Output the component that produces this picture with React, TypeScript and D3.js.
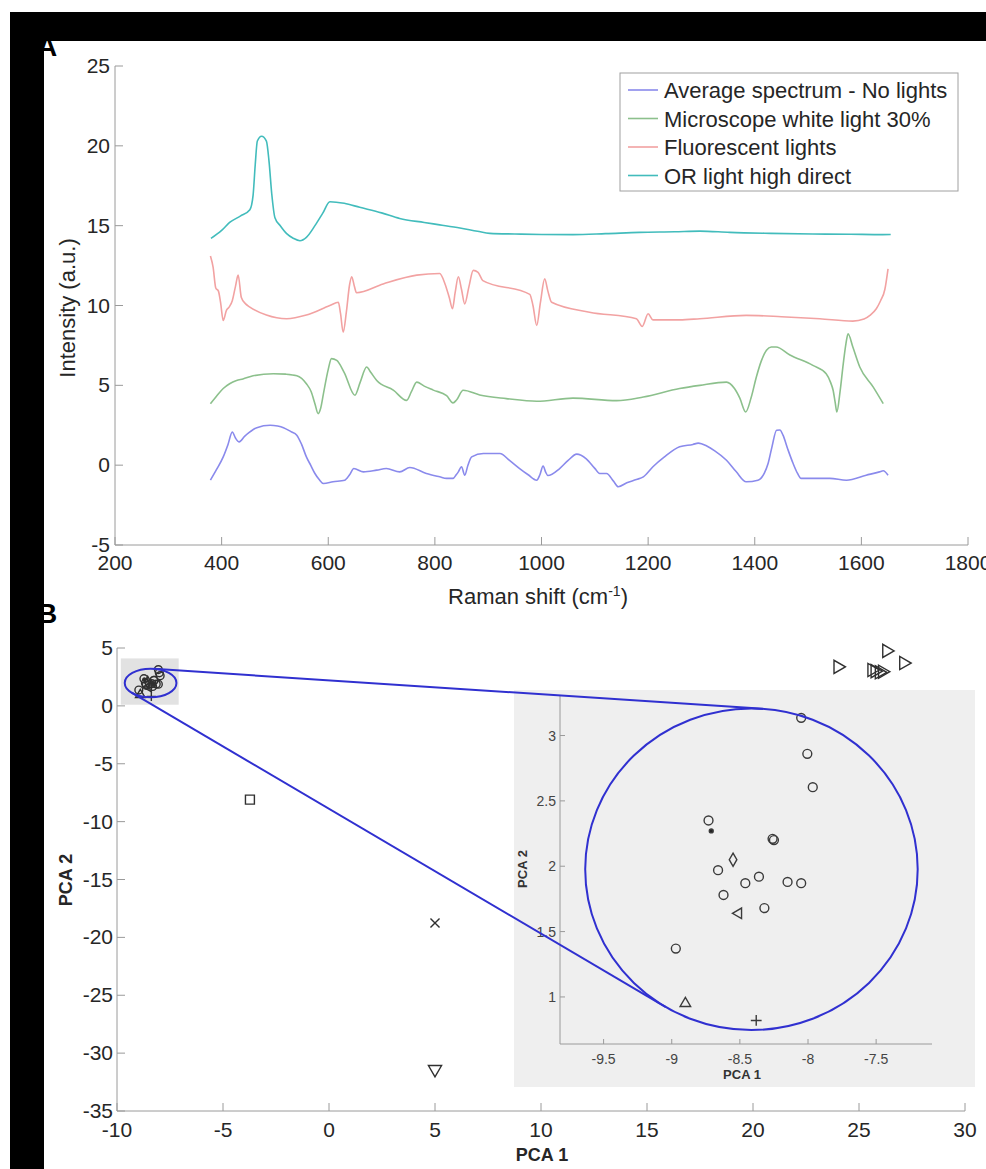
import React from 'react';
import * as d3 from 'd3';

// ---------- Panel A data ----------
const spectrumNames = [
  'Average spectrum - No lights',
  'Microscope white light 30%',
  'Fluorescent lights',
  'OR light high direct',
];
const spectrumColors = ['#8a8aec', '#8cc08c', '#f2a2a2', '#42bcbc'];

const noLights: [number, number][] = [
  [379, -0.94], [390, -0.3], [403, 0.52], [412, 1.3], [420, 2.08], [426, 1.7], [433, 1.46], [443, 1.8],
  [453, 2.08], [466, 2.35], [491, 2.5], [505, 2.45], [516, 2.35], [530, 2.1], [541, 1.88], [550, 1.3],
  [559, 0.52], [567, 0], [575, -0.52], [583, -0.9], [591, -1.15], [609, -1.04], [631, -0.94], [640, -0.6],
  [648, -0.21], [666, -0.42], [691, -0.31], [709, -0.21], [734, -0.42], [753, -0.15], [784, -0.52],
  [809, -0.73], [822, -0.83], [834, -0.83], [840, -0.6], [844, -0.42], [850, -0.1], [856, -0.63], [862, 0],
  [869, 0.52], [891, 0.73], [922, 0.73], [940, 0.3], [959, -0.21], [975, -0.6], [991, -0.94], [997, -0.6],
  [1003, -0.05], [1008, -0.45], [1012, -0.65], [1034, -0.21], [1050, 0.3], [1066, 0.69], [1084, 0.4],
  [1100, -0.2], [1109, -0.52], [1122, -0.52], [1135, -1.0], [1144, -1.35], [1160, -1.1], [1178, -0.9],
  [1191, -0.73], [1209, -0.1], [1230, 0.5], [1259, 1.15], [1284, 1.3], [1294, 1.38], [1310, 1.2],
  [1325, 0.9], [1347, 0.31], [1365, -0.4], [1384, -1.04], [1406, -0.94], [1418, -0.5], [1425, 0.1],
  [1432, 1.1], [1441, 2.19], [1447, 2.2], [1453, 1.88], [1462, 1.0], [1472, 0.1], [1480, -0.5],
  [1487, -0.83], [1541, -0.83], [1572, -0.94], [1609, -0.63], [1634, -0.42], [1641, -0.35], [1650, -0.63],
];

const microscope: [number, number][] = [
  [379, 3.85], [390, 4.3], [403, 4.8], [415, 5.1], [428, 5.3], [440, 5.4], [459, 5.6], [497, 5.73],
  [520, 5.7], [541, 5.6], [559, 5.1], [568, 4.6], [575, 3.85], [581, 3.23], [586, 3.6], [591, 4.48],
  [600, 6.0], [606, 6.67], [616, 6.56], [630, 5.8], [650, 4.38], [660, 5.2], [672, 6.15], [680, 5.8],
  [691, 5.3], [722, 4.7], [747, 4.06], [756, 4.6], [766, 5.2], [780, 4.95], [797, 4.7], [822, 4.35],
  [834, 3.9], [841, 4.1], [853, 4.69], [884, 4.4], [934, 4.17], [991, 4.0], [1059, 4.2], [1141, 4.04],
  [1191, 4.27], [1259, 4.8], [1297, 5.0], [1347, 5.2], [1362, 4.8], [1372, 4.2], [1383, 3.33],
  [1393, 4.2], [1403, 5.52], [1412, 6.5], [1422, 7.2], [1431, 7.4], [1440, 7.4], [1466, 6.9],
  [1509, 6.25], [1534, 5.73], [1542, 5.2], [1547, 4.69], [1551, 3.9], [1554, 3.33], [1560, 4.6],
  [1566, 6.35], [1571, 7.6], [1575, 8.23], [1584, 7.4], [1597, 6.15], [1622, 4.9], [1641, 3.85],
];

const fluorescent: [number, number][] = [
  [379, 13.1], [384, 12.4], [389, 11.1], [394, 10.9], [398, 10.2], [403, 9.06], [409, 9.7], [414, 9.9],
  [420, 10.3], [426, 11.2], [431, 11.9], [437, 10.5], [445, 10.1], [453, 9.9], [484, 9.4], [522, 9.17],
  [559, 9.4], [603, 10.0], [619, 10.2], [623, 9.5], [628, 8.33], [634, 9.6], [640, 11.3], [644, 11.8],
  [649, 11.2], [653, 10.8], [703, 11.35], [766, 11.9], [809, 12.0], [819, 11.35], [827, 10.5],
  [833, 9.8], [838, 10.8], [844, 11.8], [850, 11.0], [856, 10.1], [864, 11.2], [872, 12.2],
  [881, 12.08], [890, 11.56], [978, 10.7], [984, 10.0], [991, 8.75], [998, 10.2], [1006, 11.67],
  [1012, 10.9], [1019, 10.2], [1090, 9.58], [1178, 9.17], [1189, 8.69], [1200, 9.48], [1209, 9.1],
  [1259, 9.1], [1297, 9.17], [1384, 9.38], [1450, 9.3], [1522, 9.17], [1584, 9.02], [1605, 9.15],
  [1616, 9.38], [1628, 9.8], [1636, 10.3], [1644, 11.0], [1650, 12.3],
];

const orLight: [number, number][] = [
  [380, 14.2], [400, 14.7], [415, 15.2], [435, 15.6], [453, 16.0], [459, 16.9], [463, 18.8],
  [467, 20.3], [475, 20.6], [484, 20.3], [489, 19.0], [494, 17.0], [500, 15.5], [510, 15.0],
  [522, 14.5], [535, 14.2], [547, 14.06], [559, 14.27], [575, 15.0], [590, 15.8], [603, 16.5],
  [630, 16.4], [659, 16.15], [700, 15.8], [734, 15.45], [780, 15.2], [809, 15.05], [847, 14.85],
  [880, 14.65], [903, 14.52], [950, 14.48], [1000, 14.45], [1059, 14.44], [1120, 14.5], [1184, 14.58],
  [1250, 14.62], [1297, 14.66], [1353, 14.58], [1430, 14.52], [1509, 14.48], [1580, 14.46],
  [1640, 14.44], [1655, 14.45],
];

const spectra = [noLights, microscope, fluorescent, orLight];
const ramanTicks = [200, 400, 600, 800, 1000, 1200, 1400, 1600, 1800];
const intensityTicks = [-5, 0, 5, 10, 15, 20, 25];

// ---------- Panel B data ----------
type Marker = 'circle' | 'square' | 'diamond' | 'triUp' | 'triDown' | 'triLeft' | 'triRight' | 'plus' | 'times' | 'dot';
const pcaPoints: { pc1: number; pc2: number; marker: Marker }[] = [
  { pc1: -8.05, pc2: 3.135, marker: 'circle' },
  { pc1: -8.005, pc2: 2.86, marker: 'circle' },
  { pc1: -7.965, pc2: 2.605, marker: 'circle' },
  { pc1: -8.73, pc2: 2.35, marker: 'circle' },
  { pc1: -8.71, pc2: 2.27, marker: 'dot' },
  { pc1: -8.26, pc2: 2.21, marker: 'circle' },
  { pc1: -8.25, pc2: 2.2, marker: 'circle' },
  { pc1: -8.55, pc2: 2.05, marker: 'diamond' },
  { pc1: -8.66, pc2: 1.97, marker: 'circle' },
  { pc1: -8.46, pc2: 1.87, marker: 'circle' },
  { pc1: -8.36, pc2: 1.92, marker: 'circle' },
  { pc1: -8.15, pc2: 1.88, marker: 'circle' },
  { pc1: -8.05, pc2: 1.87, marker: 'circle' },
  { pc1: -8.62, pc2: 1.78, marker: 'circle' },
  { pc1: -8.51, pc2: 1.64, marker: 'triLeft' },
  { pc1: -8.32, pc2: 1.68, marker: 'circle' },
  { pc1: -8.97, pc2: 1.37, marker: 'circle' },
  { pc1: -8.9, pc2: 0.95, marker: 'triUp' },
  { pc1: -8.38, pc2: 0.82, marker: 'plus' },
  { pc1: -3.73, pc2: -8.1, marker: 'square' },
  { pc1: 5.0, pc2: -18.75, marker: 'times' },
  { pc1: 5.0, pc2: -31.4, marker: 'triDown' },
  { pc1: 24.0, pc2: 3.37, marker: 'triRight' },
  { pc1: 26.3, pc2: 4.75, marker: 'triRight' },
  { pc1: 27.1, pc2: 3.7, marker: 'triRight' },
  { pc1: 25.6, pc2: 3.1, marker: 'triRight' },
  { pc1: 25.75, pc2: 3.0, marker: 'triRight' },
  { pc1: 25.95, pc2: 2.9, marker: 'triRight' },
  { pc1: 26.1, pc2: 2.95, marker: 'triRight' },
];
const ellipseCenter = [-8.415, 1.977];
const ellipseRadii = [1.22, 1.23];
const zoomWindowPc1 = [-9.82, -7.09];
const zoomWindowPc2 = [0.1, 4.1];
const pc1Ticks = [-10, -5, 0, 5, 10, 15, 20, 25, 30];
const pc2Ticks = [-35, -30, -25, -20, -15, -10, -5, 0, 5];
const insetPc1Ticks = [-9.5, -9, -8.5, -8, -7.5];
const insetPc2Ticks = [1, 1.5, 2, 2.5, 3];

const FONT = '"Liberation Sans", Arial, Helvetica, sans-serif';
const AXIS = '#9a9a9a';
const TEXT = '#262626';

function markerPath(m: Marker, inset: boolean): string {
  const sym = (t: d3.SymbolType, s: number) => d3.symbol(t, s)() as string;
  switch (m) {
    case 'circle': return sym(d3.symbolCircle, inset ? 62 : 48);
    case 'square': return sym(d3.symbolSquare, 80);
    case 'diamond': return sym(d3.symbolDiamond, inset ? 50 : 40);
    case 'triUp':
    case 'triLeft': return sym(d3.symbolTriangle, inset ? 48 : 40);
    case 'triDown':
    case 'triRight': return sym(d3.symbolTriangle, 75);
    case 'plus': return sym(d3.symbolPlus, inset ? 40 : 30);
    case 'times': return sym(d3.symbolTimes, 55);
    case 'dot': return sym(d3.symbolCircle, inset ? 12 : 8);
  }
}
function markerRotation(m: Marker): number {
  if (m === 'triDown') return 180;
  if (m === 'triLeft') return -90;
  if (m === 'triRight') return 90;
  return 0;
}

export default function App() {
  // Panel A scales
  const xA = d3.scaleLinear().domain([200, 1800]).range([115, 968]);
  const yA = d3.scaleLinear().domain([-5, 25]).range([545, 66]);
  const line = d3.line<[number, number]>().x(d => xA(d[0])).y(d => yA(d[1])).curve(d3.curveMonotoneX);

  // Panel B scales
  const xB = d3.scaleLinear().domain([-10, 30]).range([117, 965]);
  const yB = d3.scaleLinear().domain([-35, 5]).range([1111, 648]);
  const xI = d3.scaleLinear().domain([-9.82, -7.09]).range([560, 932]);
  const yI = d3.scaleLinear().domain([0.64, 3.31]).range([1044, 695]);

  const eMain = {
    cx: xB(ellipseCenter[0]), cy: yB(ellipseCenter[1]),
    rx: xB(ellipseCenter[0] + ellipseRadii[0]) - xB(ellipseCenter[0]),
    ry: yB(ellipseCenter[1]) - yB(ellipseCenter[1] + ellipseRadii[1]),
  };
  const eIn = {
    cx: xI(ellipseCenter[0]), cy: yI(ellipseCenter[1]),
    rx: xI(ellipseCenter[0] + ellipseRadii[0]) - xI(ellipseCenter[0]),
    ry: yI(ellipseCenter[1]) - yI(ellipseCenter[1] + ellipseRadii[1]),
  };
  const samples: [number, number, number][] = [];
  for (let i = 0; i < 360; i++) {
    const t = (i / 360) * Math.PI * 2;
    samples.push([eMain.cx + eMain.rx * Math.cos(t), eMain.cy + eMain.ry * Math.sin(t), 0]);
    samples.push([eIn.cx + eIn.rx * Math.cos(t), eIn.cy + eIn.ry * Math.sin(t), 1]);
  }
  const hull = d3.polygonHull(samples as any) as any[];
  const bridges: [number[], number[]][] = [];
  if (hull) {
    for (let i = 0; i < hull.length; i++) {
      const a = hull[i], b = hull[(i + 1) % hull.length];
      if (a[2] !== b[2]) bridges.push([a, b]);
    }
  }

  const insetPoints = pcaPoints.filter(p => p.pc1 >= -9.82 && p.pc1 <= -7.09 && p.pc2 >= 0.64 && p.pc2 <= 3.31);

  const legendX = 620, legendY = 73;

  return (
    <svg width={986} height={1169} style={{ position: 'absolute', left: 0, top: 0, background: '#fff' }} fontFamily={FONT}>
      <rect x={0} y={0} width={986} height={1169} fill="#fff" />

      {/* ================= Panel A ================= */}
      <text x={37} y={56} fontSize={28} fontWeight="bold" fill="#000">A</text>
      <line x1={xA(200)} x2={xA(1800)} y1={yA(-5)} y2={yA(-5)} stroke={AXIS} />
      <line x1={xA(200)} x2={xA(200)} y1={yA(-5)} y2={yA(25)} stroke={AXIS} />
      {ramanTicks.map(t => (
        <g key={'rx' + t}>
          <line x1={xA(t)} x2={xA(t)} y1={yA(-5)} y2={yA(-5) - 8} stroke={AXIS} />
          <text x={xA(t)} y={yA(-5) + 25} fontSize={21} textAnchor="middle" fill={TEXT}>{t}</text>
        </g>
      ))}
      {intensityTicks.map(t => (
        <g key={'iy' + t}>
          <line x1={xA(200)} x2={xA(200) + 8} y1={yA(t)} y2={yA(t)} stroke={AXIS} />
          <text x={xA(200) - 5} y={yA(t) + 7} fontSize={21} textAnchor="end" fill={TEXT}>{t}</text>
        </g>
      ))}
      <text x={538} y={604} fontSize={22} textAnchor="middle" fill={TEXT}>
        Raman shift (cm<tspan dy={-8} fontSize={14}>-1</tspan><tspan dy={8}>)</tspan>
      </text>
      <text transform={`translate(75,308) rotate(-90)`} fontSize={22} textAnchor="middle" fill={TEXT}>Intensity (a.u.)</text>

      {spectra.map((s, i) => (
        <path key={'sp' + i} d={line(s) as string} fill="none" stroke={spectrumColors[i]} strokeWidth={1.6} />
      ))}

      {/* legend */}
      <rect x={legendX} y={legendY} width={338} height={118} fill="#fff" stroke="#a0a0a0" strokeWidth={1} />
      {spectrumNames.map((n, i) => (
        <g key={'lg' + i}>
          <line x1={legendX + 8} x2={legendX + 38} y1={legendY + 17 + i * 28.5} y2={legendY + 17 + i * 28.5} stroke={spectrumColors[i]} strokeWidth={1.6} />
          <text x={legendX + 44} y={legendY + 25 + i * 28.5} fontSize={22} fill={TEXT}>{n}</text>
        </g>
      ))}

      {/* ================= Panel B ================= */}
      <text x={37} y={623} fontSize={28} fontWeight="bold" fill="#000">B</text>
      <rect x={xB(zoomWindowPc1[0])} y={yB(zoomWindowPc2[1])} width={xB(zoomWindowPc1[1]) - xB(zoomWindowPc1[0])}
        height={yB(zoomWindowPc2[0]) - yB(zoomWindowPc2[1])} fill="#e2e2e2" />
      <line x1={xB(-10)} x2={xB(30)} y1={yB(-35)} y2={yB(-35)} stroke={AXIS} />
      <line x1={xB(-10)} x2={xB(-10)} y1={yB(-35)} y2={yB(5)} stroke={AXIS} />
      {pc1Ticks.map(t => (
        <g key={'px' + t}>
          <line x1={xB(t)} x2={xB(t)} y1={yB(-35)} y2={yB(-35) - 8} stroke={AXIS} />
          <text x={xB(t)} y={yB(-35) + 26} fontSize={21} textAnchor="middle" fill={TEXT}>{t}</text>
        </g>
      ))}
      {pc2Ticks.map(t => (
        <g key={'py' + t}>
          <line x1={xB(-10)} x2={xB(-10) + 8} y1={yB(t)} y2={yB(t)} stroke={AXIS} />
          <text x={xB(-10) - 4} y={yB(t) + 7} fontSize={21} textAnchor="end" fill={TEXT}>{t}</text>
        </g>
      ))}
      <text x={542} y={1161} fontSize={18} fontWeight="bold" textAnchor="middle" fill={TEXT}>PCA 1</text>
      <text transform={`translate(72,880) rotate(-90)`} fontSize={18} fontWeight="bold" textAnchor="middle" fill={TEXT}>PCA 2</text>

      {pcaPoints.map((p, i) => (
        <path key={'mp' + i} d={markerPath(p.marker, false)}
          transform={`translate(${xB(p.pc1)},${yB(p.pc2)}) rotate(${markerRotation(p.marker)})`}
          fill={p.marker === 'dot' ? '#222' : 'none'} stroke="#303030" strokeWidth={1.4} />
      ))}
      <ellipse cx={eMain.cx} cy={eMain.cy} rx={eMain.rx} ry={eMain.ry} fill="none" stroke="#3030d0" strokeWidth={2} />

      {/* inset */}
      <rect x={514} y={690} width={461} height={397} fill="#efefef" />
      <line x1={560} x2={932} y1={yI(0.64)} y2={yI(0.64)} stroke={AXIS} />
      <line x1={xI(-9.82)} x2={xI(-9.82)} y1={yI(0.64)} y2={yI(3.31)} stroke={AXIS} />
      {insetPc1Ticks.map(t => (
        <g key={'ix' + t}>
          <line x1={xI(t)} x2={xI(t)} y1={yI(0.64)} y2={yI(0.64) - 5} stroke={AXIS} />
          <text x={xI(t)} y={yI(0.64) + 20} fontSize={14} textAnchor="middle" fill="#444">{t}</text>
        </g>
      ))}
      {insetPc2Ticks.map(t => (
        <g key={'iy2' + t}>
          <line x1={xI(-9.82)} x2={xI(-9.82) + 5} y1={yI(t)} y2={yI(t)} stroke={AXIS} />
          <text x={xI(-9.82) - 4} y={yI(t) + 5} fontSize={14} textAnchor="end" fill="#444">{t}</text>
        </g>
      ))}
      <text x={742} y={1079} fontSize={13} fontWeight="bold" textAnchor="middle" fill="#333">PCA 1</text>
      <text transform={`translate(527,869) rotate(-90)`} fontSize={13} fontWeight="bold" textAnchor="middle" fill="#333">PCA 2</text>
      {insetPoints.map((p, i) => (
        <path key={'ip' + i} d={markerPath(p.marker, true)}
          transform={`translate(${xI(p.pc1)},${yI(p.pc2)}) rotate(${markerRotation(p.marker)})`}
          fill={p.marker === 'dot' ? '#222' : 'none'} stroke="#3a3a3a" strokeWidth={1.4} />
      ))}
      <ellipse cx={eIn.cx} cy={eIn.cy} rx={eIn.rx} ry={eIn.ry} fill="none" stroke="#3030d0" strokeWidth={2} />
      {bridges.map((b, i) => (
        <line key={'br' + i} x1={b[0][0]} y1={b[0][1]} x2={b[1][0]} y2={b[1][1]} stroke="#3030d0" strokeWidth={2} />
      ))}

      {/* black frame bars */}
      <rect x={10} y={12} width={976} height={29} fill="#000" />
      <rect x={10} y={12} width={34} height={1157} fill="#000" />
    </svg>
  );
}
